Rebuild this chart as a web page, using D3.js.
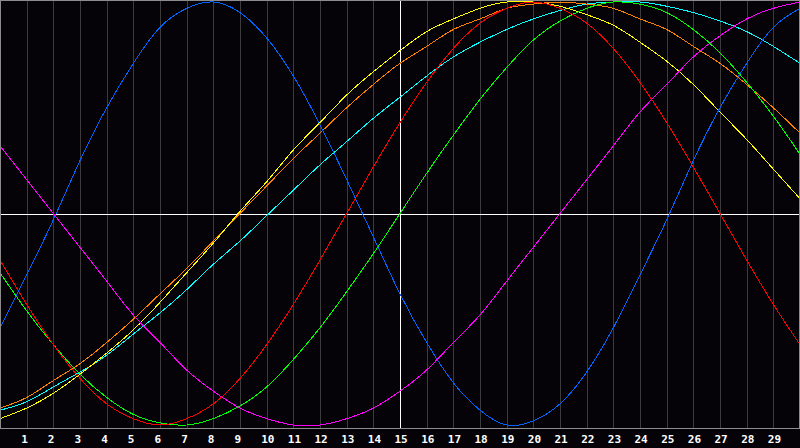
<!DOCTYPE html>
<html lang="en">
  <head>
    <meta charset="utf-8" />
    <title>Biorhythm chart</title>
    <script type="text/javascript" src="https://d3js.org/d3.v7.min.js"></script>
    <style>
      html,
      body {
        margin: 0;
        padding: 0;
        background: #050308;
        overflow: hidden;
      }
      .grid .tick line {
        stroke: #3c3c3c;
        shape-rendering: crispEdges;
      }
      .grid .tick text {
        fill: #ffffff;
        font-family: "DejaVu Sans Mono", monospace;
        font-weight: bold;
        font-size: 11px;
      }
      .grid path.domain {
        display: none;
      }
      path.curve {
        fill: none;
        stroke-width: 1px;
        shape-rendering: crispEdges;
      }
    </style>
  </head>

  <body>
    <script>
      let w = 800;
      let h = 448;
      let plotH = 428;

      // day positions along the chart (0 = left edge, 30 = right edge)
      let days = d3.range(0, 31);
      let tickDays = d3.range(1, 30);
      let today = 15;

      // values in percent at every day line
      let blue = [-54, -29, -3, 25, 50, 71, 88, 97, 100, 95, 83, 65, 42, 16, -11, -38, -61, -80, -93, -100, -98, -90, -75, -54, -29, -3, 25, 50, 71, 88, 97];
      let red = [-22, -43, -62, -78, -90, -97, -100, -97, -90, -78, -62, -43, -22, 0, 22, 43, 62, 78, 90, 97, 100, 97, 90, 78, 62, 43, 22, 0, -22, -43, -62];
      let green = [-28, -46, -62, -76, -87, -95, -99, -100, -97, -91, -82, -69, -54, -37, -19, 0, 19, 37, 54, 69, 82, 91, 97, 100, 99, 95, 87, 76, 62, 46, 28];
      let magenta = [32, 16, 0, -16, -32, -48, -61, -74, -84, -92, -97, -100, -100, -97, -92, -84, -74, -61, -48, -32, -16, 0, 16, 32, 48, 61, 74, 84, 92, 97, 100];
      let yellow = [-97, -92, -85, -76, -66, -55, -42, -28, -14, 1, 15, 30, 43, 56, 67, 77, 86, 92, 97, 100, 100, 98, 94, 89, 81, 72, 61, 48, 35, 21, 7];
      let orange = [-92, -87, -79, -71, -61, -50, -38, -26, -13, 0, 13, 26, 38, 50, 61, 71, 79, 87, 92, 97, 99, 100, 99, 97, 92, 87, 79, 71, 61, 50, 38];
      let cyan = [-93, -89, -82, -75, -67, -57, -47, -36, -24, -13, -1, 11, 23, 34, 45, 55, 65, 74, 81, 87, 92, 96, 99, 100, 100, 98, 95, 91, 86, 79, 71];

      let series = [
        { name: "cyan", color: "#00ffff", values: cyan },
        { name: "orange", color: "#ff8000", values: orange },
        { name: "yellow", color: "#ffff00", values: yellow },
        { name: "magenta", color: "#ff00ff", values: magenta },
        { name: "green", color: "#00ff00", values: green },
        { name: "red", color: "#ff0000", values: red },
        { name: "blue", color: "#0064ff", values: blue },
      ];

      function draw() {
        let svg = d3
          .select("body")
          .append("svg")
          .attr("width", w)
          .attr("height", h)
          .style("display", "block");

        svg
          .append("rect")
          .attr("width", w)
          .attr("height", h)
          .attr("fill", "#050308");

        let x_scale = d3.scaleLinear().domain([0, 30]).range([0, w]);
        let y_scale = d3.scaleLinear().domain([-100, 100]).range([425, 2]);

        // vertical day lines + labels
        let x_axis = d3
          .axisBottom(x_scale)
          .tickValues(tickDays)
          .tickSizeInner(-plotH)
          .tickSizeOuter(0)
          .tickPadding(7)
          .tickFormat(d3.format("d"));

        let grid = svg
          .append("g")
          .attr("class", "grid")
          .attr("transform", `translate(0,${plotH})`)
          .call(x_axis);

        grid.selectAll(".tick text").attr("text-anchor", "start").attr("dx", -6);
        grid
          .selectAll(".tick line")
          .filter((d) => d === today)
          .style("stroke", "#ffffff");

        // zero line
        svg
          .append("line")
          .attr("x1", 0)
          .attr("x2", w)
          .attr("y1", Math.round(y_scale(0)) + 0.5)
          .attr("y2", Math.round(y_scale(0)) + 0.5)
          .attr("stroke", "#ffffff");

        let line = d3
          .line()
          .x((d, i) => x_scale(days[i]))
          .y((d) => y_scale(d))
          .curve(d3.curveNatural);

        svg
          .selectAll("path.curve")
          .data(series)
          .join("path")
          .attr("class", "curve")
          .attr("stroke", (d) => d.color)
          .attr("d", (d) => line(d.values));

        // frame
        svg
          .append("rect")
          .attr("x", 0.5)
          .attr("y", 0.5)
          .attr("width", w - 1)
          .attr("height", plotH)
          .attr("fill", "none")
          .attr("stroke", "#8c8c8c");
      }

      draw();
    </script>
  </body>
</html>
